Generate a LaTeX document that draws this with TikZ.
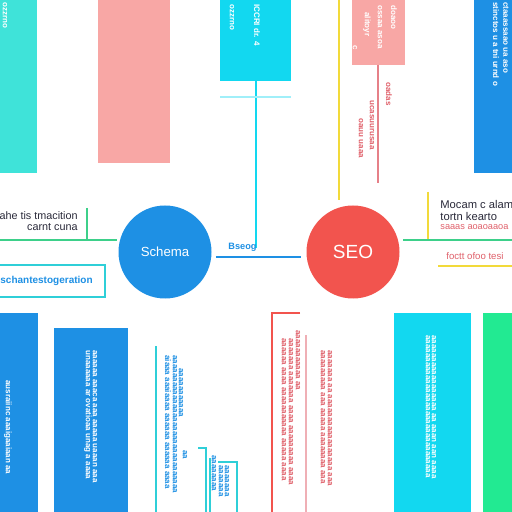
\documentclass[tikz,border=0pt]{standalone}
\usepackage{fontspec}
\setmainfont{Liberation Sans}
\usetikzlibrary{calc}
\definecolor{cteal}{HTML}{3FE3D9}
\definecolor{cpink}{HTML}{F8A7A5}
\definecolor{ccyan}{HTML}{12D8F0}
\definecolor{cblue}{HTML}{1E90E4}
\definecolor{cred}{HTML}{F2544E}
\definecolor{cyel}{HTML}{F2DA3A}
\definecolor{cgreen}{HTML}{3DD08A}
\definecolor{cmint}{HTML}{22EA92}
\definecolor{cline}{HTML}{2FCFD8}
\definecolor{ctxtred}{HTML}{E0606A}
\definecolor{cdark}{HTML}{2A2A3A}
\begin{document}
\begin{tikzpicture}[x=0.5pt,y=-0.5pt,
  vtxt/.style={rotate=-90,anchor=west,inner sep=0,font=\fontsize{4}{4.5}\selectfont\bfseries},
  circ/.style={circle,minimum size=46.5pt,inner sep=0,text=white},
  lab/.style={inner sep=0,font=\fontsize{5.4}{6}\selectfont}]
\useasboundingbox (0,0) rectangle (512,512);
\fill[white] (0,0) rectangle (512,512);
% top bars
\fill[cteal] (0,0) rectangle (37,173);
\fill[cpink] (98,0) rectangle (170,163);
\fill[ccyan] (220,0) rectangle (291,81);
\fill[cpink] (352,0) rectangle (405,65);
\fill[cblue] (474,0) rectangle (512,173);
% bottom bars
\fill[cblue] (0,313) rectangle (38,512);
\fill[cblue] (54,328) rectangle (128,512);
\fill[ccyan] (394,313) rectangle (471,512);
\fill[cmint] (483,313) rectangle (512,512);
% texts in bars
\node[vtxt,text=white] at (5,2) {ozzrno};
\node[vtxt,text=white] at (232,4) {ozzrno};
\node[vtxt,text=white] at (257,4) {ICCRI dr. 4};
\node[vtxt,text=white] at (394,5) {doaoo};
\node[vtxt,text=white] at (380,5) {ossaa asoa};
\node[vtxt,text=white] at (367,12) {alitoyr};
\node[vtxt,text=white] at (355,45) {c};
\node[vtxt,text=white] at (496,2) {stinctos u a tni urnd o};
\node[vtxt,text=white] at (506,2) {ctaaassaao ua aso};
\node[vtxt,text=white] at (8,380) {ausraiinc aaaigaaiaan aa};
\node[vtxt,text=white] at (88,350) {unaaaaaa ar ovatioaa unag a aaaa};
\node[vtxt,text=white] at (95,350) {aaaaaa aaaca aaa aaaaa uaaan aaa};
\node[vtxt,text=white] at (428,335) {aaaaaaaaaaaaaaaaaaaaaaaaaaaaaaaa};
\node[vtxt,text=white] at (434,335) {aaaaaaaaaaaaaaaaa aa aaan aan aaaa};
% thin lines
\coordinate (cb) at (256,81);
\coordinate (cbend) at (256,248);
\draw[ccyan,line width=1.2pt] (cb) -- (cbend);
\draw[ccyan!40,line width=0.6pt] (220,97) -- (291,97);
\draw[cyel,line width=1.2pt] (339,0) -- (339,200);
\coordinate (pb) at (378,65);
\coordinate (pbend) at (378,183);
\draw[ctxtred!80,line width=0.8pt] (pb) -- (pbend);
\node[vtxt,text=ctxtred] at (389,82) {oadas};
\node[vtxt,text=ctxtred] at (372,100) {ucasuurusaa};
\node[vtxt,text=ctxtred] at (361,118) {oauu uaaa};
% circles
\node[circ,fill=cblue,font=\fontsize{6.6}{8}\selectfont] (schema) at (165,252) {Schema};
\node[circ,fill=cred,font=\fontsize{9.5}{11}\selectfont] (seo) at (353,252) {SEO};
% center connector
\draw[cblue,line width=1.2pt] ($(schema.east)+(4,5)$) coordinate (l1) -- ($(seo.west)+(-5,5)$) coordinate (l2);
\node[lab,text=cblue,anchor=south west,font=\fontsize{4.6}{5}\selectfont\bfseries] (bseg) at (228,252) {Bseog};
% left side
\node[lab,anchor=east,text=cdark] (t1) at (78,216) {ahe tis tmacition};
\node[lab,anchor=east,text=cdark] (t2) at (78,227) {carnt cuna};
\draw[cgreen,line width=1pt] (87,208) -- (87,240);
\draw[cgreen,line width=1pt] (0,240) -- (117,240);
\draw[cline,line width=1pt] (0,265) -- (105,265) -- (105,297) -- (0,297);
\node[lab,anchor=west,text=cblue,font=\fontsize{5}{6}\selectfont\bfseries] (t3) at (0,281) {schantestogeration};
% right side
\draw[cyel,line width=1pt] (428,192) -- (428,240);
\draw[cgreen,line width=1pt] (403,240) -- (512,240);
\node[lab,anchor=west,text=cdark,font=\fontsize{5.6}{6}\selectfont] (r1) at (440,205) {Mocam c alam};
\node[lab,anchor=west,text=cdark,font=\fontsize{5.6}{6}\selectfont] (r2) at (440,216) {tortn kearto};
\node[lab,anchor=west,text=ctxtred,font=\fontsize{4.6}{5}\selectfont] (r3) at (440,227) {saaas aoaoaaoa};
\node[lab,anchor=west,text=ctxtred,font=\fontsize{4.8}{5}\selectfont] (r4) at (446,256) {foctt ofoo tesi};
\draw[cyel,line width=1pt] (438,266) -- (512,266);
% bottom middle cyan lines and text
\draw[cline,line width=1pt] (156,346) -- (156,512);
\draw[cline,line width=0.8pt] (198,448) -- (206,448) -- (206,512);
\draw[cline,line width=0.8pt] (210,458) -- (210,512);
\draw[cline,line width=0.8pt] (218,462) -- (237,462) -- (237,512);
\node[vtxt,text=cblue] at (168,355) {aiaaa aaaiaaaa aaaaaa aaaaaa aaaa};
\node[vtxt,text=cblue] at (175,355) {aaaaaaaaaaaaaaaaaaaaaaaaaaaaaaa};
\node[vtxt,text=cblue] at (181,368) {aaaaaaaaaaa};
\node[vtxt,text=cblue] at (185,450) {aa};
\node[vtxt,text=cblue] at (214,455) {aaaaaaaa};
\node[vtxt,text=cblue] at (221,465) {aaaaaaa};
\node[vtxt,text=cblue] at (227,465) {aaaaaaa};
% bottom red bracket and text
\draw[cred,line width=1pt] (300,313) -- (272,313) -- (272,512);
\draw[ctxtred!50,line width=0.6pt] (306,335) -- (306,512);
\node[vtxt,text=ctxtred] at (298,330) {aaaaaaaaaaa aa};
\node[vtxt,text=ctxtred] at (291,338) {aaaaaaa aaaaaaa aaaa aaaaaaaaa aaaa};
\node[vtxt,text=ctxtred] at (284,338) {aaaaaa aaaa aaaaaaaaaaa aaaaa aaaa};
\node[vtxt,text=ctxtred] at (323,350) {aaaaaaaaa aaa aaaaa aaaaaaaa aaa};
\node[vtxt,text=ctxtred] at (330,350) {aaaaaaa aa aaaaaaaaaaaaaaaaa aaa};
\end{tikzpicture}
\end{document}
